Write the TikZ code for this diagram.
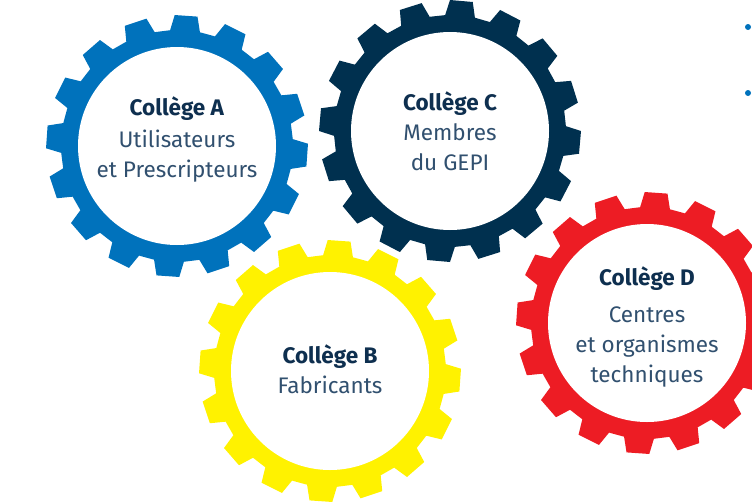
\documentclass[tikz,border=0pt]{standalone}
\usepackage{fontspec}
\setmainfont{Fira Sans}
\definecolor{gblue}{HTML}{0072BC}
\definecolor{gnavy}{HTML}{00304F}
\definecolor{gyellow}{HTML}{FFF200}
\definecolor{gred}{HTML}{ED1C24}
\definecolor{titletext}{HTML}{0E2F4F}
\definecolor{subtext}{HTML}{31506F}
\tikzset{
    college/.style={circle, fill=white, minimum size=198pt, inner sep=0pt},
    collegetext/.style={align=center, inner sep=0pt, text=subtext,
        font=\fontsize{22.5}{30}\selectfont},
    dot/.style={circle, fill=gblue, minimum size=6pt, inner sep=0pt},
}
% #1 x, #2 y, #3 rotation, #4 colour
\newcommand{\gear}[4]{%
    \fill[#4, shift={(#1,#2)}] ({#3-7.4}:116)
        \foreach \k in {0,...,15} {
            -- ({#3+22.5*\k-7.4}:116) -- ({#3+22.5*\k-5}:131)
            -- ({#3+22.5*\k+5}:131) -- ({#3+22.5*\k+7.4}:116)
        } -- cycle;}
\newcommand{\collegetitle}[1]{\textcolor{titletext}{\textbf{#1}}}
\begin{document}
\begin{tikzpicture}[x=1pt,y=-1pt]
        \useasboundingbox (0,0) rectangle (752,501);
        \gear{177}{146}{4}{gblue}
        \gear{450}{131}{5}{gnavy}
        \gear{330}{371}{4}{gyellow}
        \gear{647}{323}{4}{gred}
        \node[college] (A) at (177,146) {};
        \node[college] (C) at (450,131) {};
        \node[college] (B) at (330,371) {};
        \node[college] (D) at (647,323) {};
        \node[collegetext] (At) at ([yshift=7pt]A.center) {\collegetitle{Collège A}\\[2pt]Utilisateurs\\et Prescripteurs};
        \node[collegetext] (Ct) at (C.center) {\collegetitle{Collège C}\\Membres\\du GEPI};
        \node[collegetext] (Bt) at ([yshift=2pt]B.center) {\collegetitle{Collège B}\\Fabricants};
        \node[collegetext] (Dt) at ([yshift=-4pt]D.center) {\collegetitle{Collège D}\\[7pt]Centres\\et organismes\\techniques};
        \node[dot] (d1) at (748,27) {};
        \node[dot] (d2) at (748,93) {};
    \end{tikzpicture}
\end{document}
